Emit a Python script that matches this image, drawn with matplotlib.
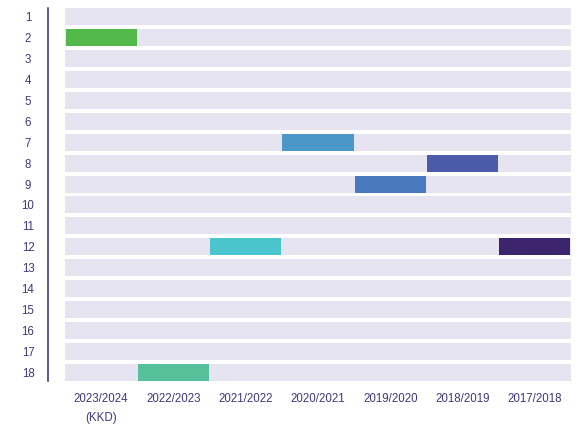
import matplotlib.pyplot as plt

seasons = ['2023/2024', '2022/2023', '2021/2022', '2020/2021', '2019/2020', '2018/2019', '2017/2018']
positions = [2, 18, 12, 7, 9, 8, 12]
colors = ['#52b84a', '#56c09b', '#4bc5cd', '#4b98c8', '#4878be', '#4c5aaa', '#3d256e']
rows = list(range(1, 19))

text_color = '#43367a'
bg_color = '#e6e4f0'

fig = plt.figure(figsize=(5.79, 4.28), dpi=100)
ax = fig.add_axes([65 / 579, 1 - 381 / 428, 506 / 579, 373 / 428])

# spines first: set_position resets the ticks
for s in ['top', 'right', 'bottom']:
    ax.spines[s].set_visible(False)
ax.spines['left'].set_position(('outward', 12.2))
ax.spines['left'].set_color('#3d2a6e')
ax.spines['left'].set_linewidth(1.1)

# background rows
ax.barh(rows, len(seasons), left=0, height=0.81, color=bg_color)

# position of the club in each season
for i, (pos, c) in enumerate(zip(positions, colors)):
    ax.barh(pos, 0.985, left=i + 0.0075, height=0.81, color=c)

ax.set_xlim(0, len(seasons))
ax.set_ylim(18.405, 0.595)

ax.set_yticks(rows)
ax.set_yticklabels([str(r) for r in rows], fontfamily='Liberation Sans', fontsize=8.3,
                   color=text_color, ha='center')
ax.tick_params(axis='y', length=0, pad=14.4)

labels = list(seasons)
labels[0] = labels[0] + '\n(KKD)'
ax.set_xticks([i + 0.5 for i in range(len(seasons))])
ax.set_xticklabels(labels, fontfamily='Liberation Sans', fontsize=8.3, color=text_color,
                   linespacing=1.8)
ax.tick_params(axis='x', length=0, pad=8.5)

fig.savefig('out.png', dpi=100)
